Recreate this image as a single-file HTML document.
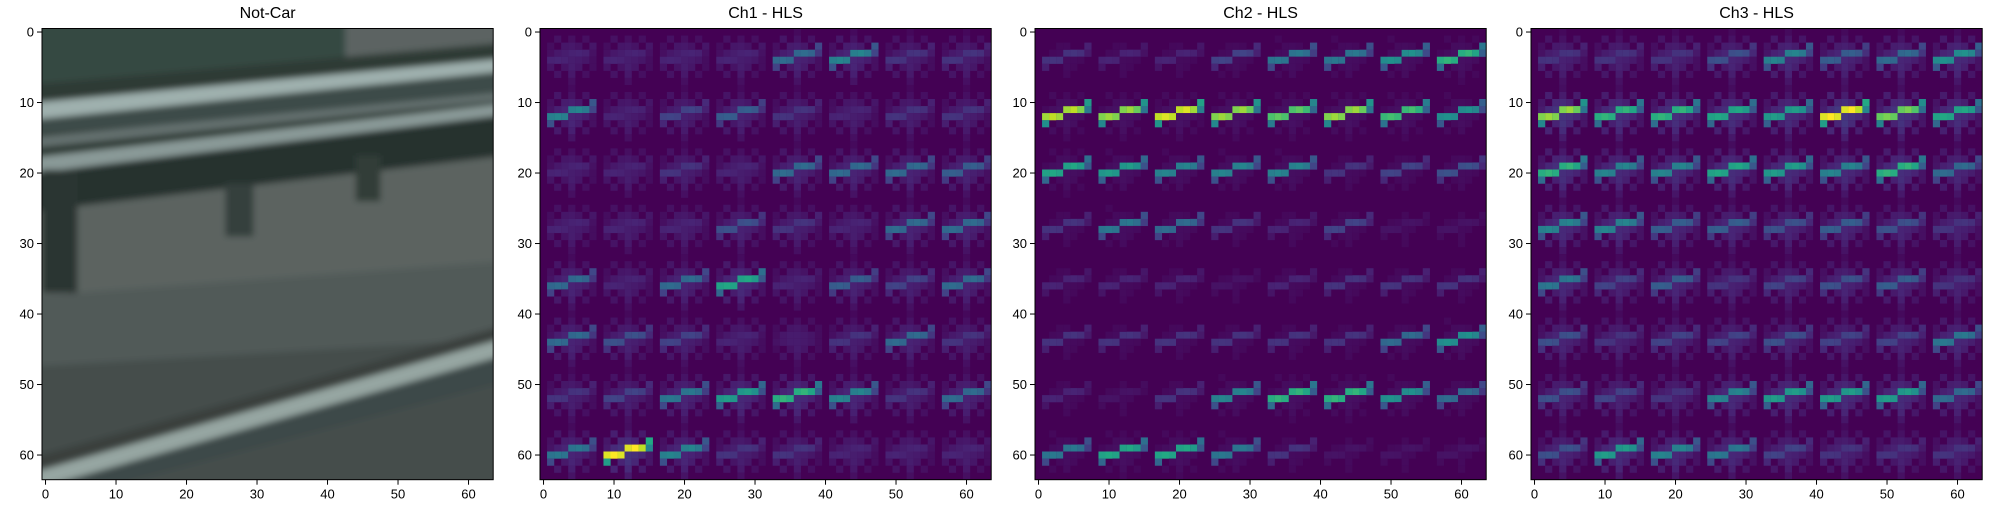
<!DOCTYPE html>
<html><head><meta charset="utf-8">
<style>
html,body{margin:0;padding:0;background:#fff;}
body{width:2000px;height:500px;position:relative;overflow:hidden;font-family:"Liberation Sans",sans-serif;}
svg text{font-family:"Liberation Sans",sans-serif;}
</style></head>
<body>
<svg id="fig" width="2000" height="500" viewBox="0 0 2000 500" xmlns="http://www.w3.org/2000/svg">
  <defs>
    <filter id="soft" x="-5%" y="-5%" width="110%" height="110%"><feGaussianBlur stdDeviation="0.45"/></filter>
    <clipPath id="c1"><rect x="0" y="0" width="64" height="64"/></clipPath>
  </defs>
  <g id="photo" transform="translate(42,28.5) scale(7.05)">
    <g clip-path="url(#c1)" filter="url(#soft)">
      <rect x="-2" y="-2" width="68" height="68" fill="#444d4c"/>
      <rect x="-2" y="-2" width="68" height="10" fill="#354a42"/>
      <polygon points="43,-2 66,-2 66,5 43,6" fill="#5b6462"/>
      <polygon points="-2,8 66,2 66,20 -2,28" fill="#2f3a36"/>
      <polygon points="-2,10.6 66,4.2 66,6 -2,13" fill="#9fb0ae"/>
      <polygon points="-2,13.2 66,6.2 66,10.5 -2,15" fill="#3e4c4a"/>
      <polygon points="-2,15.5 66,9 66,10 -2,17" fill="#65716f"/>
      <polygon points="-2,18.4 66,10.6 66,12.2 -2,20.6" fill="#8a9a98"/>
      <polygon points="-2,20.6 66,12.2 66,18 -2,26" fill="#27332f"/>
      <polygon points="-2,26 66,18 66,38 -2,40" fill="#5c6461"/>
      <polygon points="-2,38 66,33 66,44 -2,48" fill="#515a58"/>
      <rect x="0" y="20" width="5" height="17.5" fill="#2c3633"/>
      <rect x="26" y="22" width="4" height="7.5" fill="#34403c"/>
      <rect x="44.5" y="18" width="3.5" height="6.5" fill="#323c38"/>
      <polygon points="-2,61 66,42 66,44.5 -2,63.5" fill="#3a3f3d"/>
      <polygon points="-2,63.2 66,43.8 66,46.2 -2,65.6" fill="#96a6a2"/>
      <polygon points="-2,65.6 66,46.2 66,50 -2,68" fill="#3e4a48"/>
    </g>
  </g>
  <g id="hog1"></g>
  <g id="hog2"></g>
  <g id="hog3"></g>
  <g id="axes"></g>
</svg>
<script>
const ch1Strength = [
 [.1,.1,.1,.1,.35,.45,.15,.15],
 [.45,.1,.2,.3,.15,.1,.15,.15],
 [.1,.1,.15,.1,.35,.35,.35,.3],
 [.1,.1,.1,.25,.15,.1,.35,.35],
 [.35,.1,.35,.6,.1,.3,.2,.35],
 [.35,.25,.2,.1,.05,.15,.35,.15],
 [.15,.2,.4,.55,.65,.45,.15,.35],
 [.4,1.0,.45,.15,.15,.1,.1,.1]];
const ch2Strength = [
 [.15,.1,.1,.2,.4,.4,.5,.65],
 [.9,.85,.95,.85,.75,.85,.7,.5],
 [.6,.55,.45,.45,.45,.15,.2,.25],
 [.15,.4,.35,.15,.1,.2,.05,.05],
 [.1,.1,.1,.05,.1,.15,.15,.15],
 [.15,.15,.15,.15,.15,.15,.35,.5],
 [.1,.05,.15,.45,.65,.65,.5,.35],
 [.4,.6,.6,.4,.15,.05,.05,.05]];
const ch3Strength = [
 [.15,.15,.15,.25,.45,.3,.35,.5],
 [.85,.65,.65,.6,.55,1.0,.8,.6],
 [.65,.45,.45,.6,.55,.45,.65,.35],
 [.45,.45,.3,.3,.25,.3,.25,.15],
 [.4,.2,.3,.15,.2,.25,.3,.15],
 [.25,.15,.2,.2,.25,.2,.2,.4],
 [.25,.2,.15,.45,.55,.55,.55,.35],
 [.25,.55,.45,.4,.2,.15,.15,.15]];
const clutterLevels = [0.2, 0.07, 0.22];
const panelTitles = ["Not-Car","Ch1 - HLS","Ch2 - HLS","Ch3 - HLS"];
const tickValues = [0,10,20,30,40,50,60];

const NS="http://www.w3.org/2000/svg";
const panelLeft=[42,540,1035,1531], top0=28.5, PX=7.05, SIZE=64*PX;
const VIR=[[68,1,84],[72,36,117],[65,68,135],[53,95,141],[42,120,142],[33,145,140],[34,168,132],[68,191,112],[122,209,81],[189,223,38],[253,231,37]];
function viridis(v){v=Math.max(0,Math.min(1,v));const f=v*10,i=Math.min(9,Math.floor(f)),t=f-i;const a=VIR[i],b=VIR[i+1];
 return `rgb(${Math.round(a[0]+(b[0]-a[0])*t)},${Math.round(a[1]+(b[1]-a[1])*t)},${Math.round(a[2]+(b[2]-a[2])*t)})`;}
const strokeMask=[[1,4,.95],[2,4,1],[3,4,.95],[4,3,.95],[5,3,1],[6,3,.9],[7,2,.6],[7,3,.45],[1,5,.55]];
const hW=[0,.3,.5,.6,.6,.55,.45,.25], vW=[.15,.3,.5,.6,.6,.6,.5,.3];
const clutterMask=[];
for(let c=1;c<8;c++){clutterMask.push([c,3,hW[c]]);clutterMask.push([c,4,hW[c]]);}
for(let r=0;r<8;r++){clutterMask.push([4,r,vW[r]]);}
[[2,1,.35],[6,1,.3],[2,6,.4],[6,6,.3],[1,2,.25],[7,5,.25],[3,2,.45],[5,5,.45],[3,5,.4],[5,2,.4]].forEach(p=>clutterMask.push(p));

function drawHog(gid,data,clut,x0){
  const g=document.getElementById(gid);
  g.setAttribute('transform',`translate(${x0},${top0}) scale(${PX})`);
  const bg=document.createElementNS(NS,'rect');
  bg.setAttribute('x',0);bg.setAttribute('y',0);bg.setAttribute('width',64);bg.setAttribute('height',64);
  bg.setAttribute('fill',viridis(0));
  g.appendChild(bg);
  for(let r=0;r<8;r++)for(let c=0;c<8;c++){
    const s=data[r][c];const grid={};
    const cl=clut*(0.6+0.6*s);
    clutterMask.forEach(([x,y,w])=>{const k=x+','+y;grid[k]=Math.max(grid[k]||0,cl*w);});
    strokeMask.forEach(([x,y,w])=>{const k=x+','+y;grid[k]=Math.max(grid[k]||0,s*w);});
    for(const k in grid){const [x,y]=k.split(',').map(Number);const v=grid[k];if(v<0.02)continue;
      const p=document.createElementNS(NS,'rect');
      
      
      p.setAttribute('x',c*8+x);p.setAttribute('y',r*8+y);p.setAttribute('width',1.02);p.setAttribute('height',1.02);
      p.setAttribute('fill',viridis(v));g.appendChild(p);}
  }
}
drawHog('hog1',ch1Strength,clutterLevels[0],panelLeft[1]);
drawHog('hog2',ch2Strength,clutterLevels[1],panelLeft[2]);
drawHog('hog3',ch3Strength,clutterLevels[2],panelLeft[3]);

const ax=document.getElementById('axes');
function mk(tag,attrs,text){const e=document.createElementNS(NS,tag);for(const k in attrs)e.setAttribute(k,attrs[k]);if(text!==undefined)e.textContent=text;ax.appendChild(e);return e;}
panelLeft.forEach((L,i)=>{
  const fr=mk('rect',{x:L,y:top0,width:SIZE,height:SIZE,fill:'none',stroke:'#000','stroke-width':1});
  
  
  const t=mk('text',{x:L+SIZE/2,y:18,'text-anchor':'middle','font-size':16,fill:'#000'},panelTitles[i]);
  
  
  tickValues.forEach(v=>{
    const px=L+(v+0.5)*PX, py=top0+(v+0.5)*PX;
    mk('line',{x1:px,y1:top0+SIZE,x2:px,y2:top0+SIZE+5,stroke:'#000','stroke-width':1});
    const xl=mk('text',{x:px,y:top0+SIZE+19,'text-anchor':'middle','font-size':13,fill:'#000'},String(v));
    
    
    mk('line',{x1:L-5,y1:py,x2:L,y2:py,stroke:'#000','stroke-width':1});
    const yl=mk('text',{x:L-8,y:py+4.5,'text-anchor':'end','font-size':13,fill:'#000'},String(v));
    
    
  });
});
</script>
</body></html>
